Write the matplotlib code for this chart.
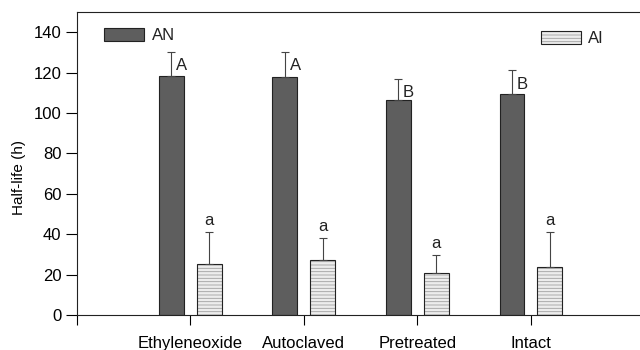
import matplotlib.pyplot as plt
import numpy as np

plt.rcParams['font.family'] = ['Liberation Sans', 'DejaVu Sans']
plt.rcParams['hatch.linewidth'] = 0.6

# Data
categories = ['Ethyleneoxide', 'Autoclaved', 'Pretreated', 'Intact']
an_vals = [118.5, 118, 106.5, 109.5]
an_err = [11.5, 12, 10.5, 11.5]
ai_vals = [25, 27, 21, 24]
ai_err = [16, 11, 8.5, 17]
an_letters = ['A', 'A', 'B', 'B']
ai_letters = ['a', 'a', 'a', 'a']

fig = plt.figure(figsize=(6.4, 3.5), dpi=100)
ax = fig.add_axes([0.120, 0.10, 0.885, 0.866])

x = np.arange(1, len(categories) + 1)
w = 0.22
off = 0.166
ek = dict(ecolor='#444444', elinewidth=0.8, capthick=0.8)

ax.bar(x - off, an_vals, w, color='#5e5e5e', edgecolor='#222222', linewidth=0.8,
       yerr=[np.zeros(len(an_err)), an_err], capsize=3, error_kw=ek, zorder=2)
# hatched fill, then outline
ax.bar(x + off, ai_vals, w, color='#ececec', edgecolor='#a0a0a0', linewidth=0,
       hatch='-----', zorder=2)
ax.bar(x + off, ai_vals, w, fill=False, edgecolor='#222222', linewidth=0.8,
       yerr=[np.zeros(len(ai_err)), ai_err], capsize=3, error_kw=ek, zorder=3)

for xi, v, e, t in zip(x, an_vals, an_err, an_letters):
    ax.text(xi - off + 0.04, v + e - 3, t, fontsize=12, ha='left', va='top', color='#222222')
for xi, v, e, t in zip(x, ai_vals, ai_err, ai_letters):
    ax.text(xi + off, v + e + 2, t, fontsize=12, ha='center', va='bottom', color='#222222')

# legend-like labels placed as in the reference
ax.add_patch(plt.Rectangle((0.24, 135.5), 0.35, 6.5, facecolor='#5e5e5e',
                           edgecolor='#222222', linewidth=0.8, zorder=3))
ax.text(0.66, 138.5, 'AN', fontsize=12, va='center', color='#222222')
ax.add_patch(plt.Rectangle((4.09, 134), 0.35, 6.5, facecolor='#ececec', hatch='-----',
                           edgecolor='#a0a0a0', linewidth=0, zorder=3))
ax.add_patch(plt.Rectangle((4.09, 134), 0.35, 6.5, fill=False,
                           edgecolor='#222222', linewidth=0.8, zorder=4))
ax.text(4.5, 137, 'AI', fontsize=12, va='center', color='#222222')

ax.set_xlim(0, 4.99)
ax.set_ylim(0, 150)
ax.set_xticks([0] + list(x))
ax.set_xticklabels([''] + categories, fontsize=12)
ax.set_yticks(range(0, 141, 20))
ax.tick_params(axis='y', labelsize=12, direction='out', length=8, pad=3)
ax.tick_params(axis='x', direction='out', length=7, pad=8)
ax.set_ylabel('Half-life (h)', fontsize=11)
ax.yaxis.set_label_coords(-0.090, 0.455)
for s in ax.spines.values():
    s.set_color('#222222')

fig.savefig('out.png', dpi=100)
